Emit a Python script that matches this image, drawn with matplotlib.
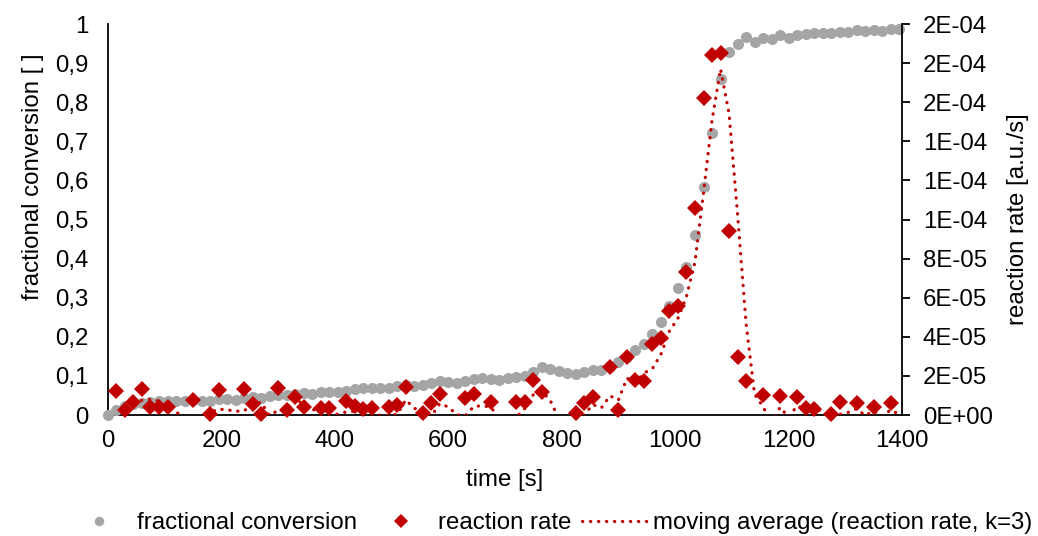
import numpy as np
import pandas as pd
import matplotlib
matplotlib.use("Agg")
import matplotlib.pyplot as plt
from matplotlib.lines import Line2D
from matplotlib.ticker import MultipleLocator, FuncFormatter

# ---- data -------------------------------------------------------------
time_s = [
    0, 15, 30, 45, 60, 75, 90, 105, 120, 135, 150, 165, 180, 195, 210, 225,
    240, 255, 270, 285, 300, 315, 330, 345, 360, 375, 390, 405, 420, 435, 450,
    465, 480, 495, 510, 525, 540, 555, 570, 585, 600, 615, 630, 645, 660, 675,
    690, 705, 720, 735, 750, 765, 780, 795, 810, 825, 840, 855, 870, 885, 900,
    915, 930, 945, 960, 975, 990, 1005, 1020, 1035, 1050, 1065, 1080, 1095,
    1110, 1125, 1140, 1155, 1170, 1185, 1200, 1215, 1230, 1245, 1260, 1275,
    1290, 1305, 1320, 1335, 1350, 1365, 1380, 1395,
]

conversion = [
    0.000, 0.013, 0.022, 0.028, 0.030, 0.033, 0.035, 0.036, 0.037, 0.036,
    0.038, 0.037, 0.036, 0.040, 0.042, 0.038, 0.043, 0.046, 0.044, 0.049,
    0.052, 0.050, 0.054, 0.056, 0.055, 0.058, 0.060, 0.059, 0.062, 0.066,
    0.068, 0.070, 0.068, 0.069, 0.073, 0.077, 0.075, 0.078, 0.082, 0.086,
    0.085, 0.083, 0.088, 0.091, 0.094, 0.093, 0.090, 0.094, 0.096, 0.101,
    0.110, 0.122, 0.118, 0.112, 0.107, 0.106, 0.109, 0.115, 0.116, 0.122,
    0.135, 0.148, 0.166, 0.182, 0.207, 0.238, 0.278, 0.325, 0.378, 0.460,
    0.583, 0.722, 0.860, 0.928, 0.950, 0.967, 0.954, 0.964, 0.962, 0.972,
    0.965, 0.971, 0.974, 0.977, 0.976, 0.977, 0.980, 0.979, 0.984, 0.982,
    0.985, 0.983, 0.986, 0.988,
]

reaction_rate = [
    np.nan, 1.23e-5, 2.6e-6, 6.6e-6, 1.33e-5, 4.0e-6, 4.0e-6, 4.0e-6, -3e-6,
    -6e-6, 7.7e-6, -4e-6, 0.3e-6, 1.28e-5, -5e-6, -2e-6, 1.33e-5, 5.6e-6,
    0.5e-6, -7e-6, 1.38e-5, 2.6e-6, 9.2e-6, 4.0e-6, -4e-6, 3.6e-6, 3.6e-6,
    -6e-6, 7.2e-6, 4.6e-6, 3.0e-6, 3.6e-6, -8e-6, 4.0e-6, 5.0e-6, 1.43e-5,
    -9e-6, 1.0e-6, 6.0e-6, 1.05e-5, -4e-6, -6e-6, 8.7e-6, 1.05e-5, -5e-6,
    6.6e-6, -7e-6, -3e-6, 6.6e-6, 6.6e-6, 1.8e-5, 1.2e-5, -8e-6, -10e-6,
    -6e-6, 1.0e-6, 6.0e-6, 9.0e-6, -4e-6, 2.45e-5, 2.6e-6, 2.95e-5, 1.77e-5,
    1.72e-5, 3.65e-5, 3.95e-5, 5.3e-5, 5.6e-5, 7.3e-5, 1.06e-4, 1.62e-4,
    1.84e-4, 1.85e-4, 9.4e-5, 2.95e-5, 1.75e-5, -1.5e-5, 1.02e-5, -8e-6,
    9.7e-6, -5e-6, 9.4e-6, 3.7e-6, 2.9e-6, -6e-6, 0.5e-6, 6.5e-6, -3e-6,
    6.3e-6, -4e-6, 3.9e-6, -2e-6, 6.0e-6, -3e-6,
]

ma_window = 3

# ---- style ------------------------------------------------------------
plt.rcParams["font.family"] = ["Liberation Sans", "DejaVu Sans"]
plt.rcParams["font.size"] = 17.3

gray = "#A5A5A5"
red = "#C00000"

t = np.asarray(time_s, dtype=float)
conv = np.asarray(conversion, dtype=float)
rate = np.asarray(reaction_rate, dtype=float)
rate_ma = pd.Series(rate).rolling(ma_window).mean().to_numpy()

fig = plt.figure(figsize=(10.38, 5.36), dpi=100)
ax = fig.add_axes([0.104, 0.2257, 0.765, 0.7295])
ax2 = ax.twinx()

# fractional conversion on the primary axis
ax.plot(t, conv, linestyle="none", marker="o", markersize=8.0,
        color=gray, markeredgewidth=0, clip_on=False, zorder=3)

# reaction rate on the secondary axis (points below zero are not shown)
shown = rate >= 0
ax2.plot(t[shown], rate[shown], linestyle="none", marker="D",
         markersize=8.6, color=red, markeredgewidth=0, clip_on=False,
         zorder=3)
ax2.plot(t, rate_ma, color=red, linewidth=2.3, dashes=(0.1, 2.4),
         dash_capstyle="round", zorder=4)

# axes limits and ticks
ax.set_xlim(0, 1400)
ax.set_ylim(0, 1)
ax2.set_ylim(0, 2e-4)
ax.xaxis.set_major_locator(MultipleLocator(200))
ax.yaxis.set_major_locator(MultipleLocator(0.1))
ax2.yaxis.set_major_locator(MultipleLocator(2e-5))

ax.yaxis.set_major_formatter(
    FuncFormatter(lambda v, p: f"{round(v, 1):g}".replace(".", ",")))
ax2.yaxis.set_major_formatter(FuncFormatter(lambda v, p: f"{v:.0E}"))

ax.tick_params(axis="x", length=0, pad=11)
ax.tick_params(axis="y", length=0, pad=14)
ax2.tick_params(axis="y", length=6, width=1.3, pad=9, direction="out")

for a in (ax, ax2):
    a.spines["top"].set_visible(False)
    for s in ("left", "right", "bottom"):
        a.spines[s].set_linewidth(1.3)
        a.spines[s].set_color("black")
ax.spines["right"].set_visible(False)
ax2.spines["left"].set_visible(False)
ax2.spines["bottom"].set_visible(False)

ax.set_xlabel("time [s]", labelpad=12)
ax.set_ylabel("fractional conversion [ ]")
ax.yaxis.set_label_coords(-0.081, 0.609)
ax2.set_ylabel("reaction rate [a.u./s]", labelpad=10)

handles = [
    Line2D([], [], linestyle="none", marker="o", markersize=6.8,
           color=gray, markeredgewidth=0),
    Line2D([], [], linestyle="none", marker="D", markersize=7.6,
           color=red, markeredgewidth=0),
    Line2D([], [], color=red, linewidth=2.3, dashes=(0.1, 2.4),
           dash_capstyle="round"),
]
labels = ["fractional conversion", "reaction rate",
          f"moving average (reaction rate, k={ma_window})"]
fig.legend(handles, labels, loc="center", ncol=3, frameon=False,
           bbox_to_anchor=(0.529, 0.024), bbox_transform=fig.transFigure,
           handlelength=2.8, handletextpad=0.15, columnspacing=0.45,
           borderpad=0, borderaxespad=0)

fig.savefig("out.png", dpi=100)
